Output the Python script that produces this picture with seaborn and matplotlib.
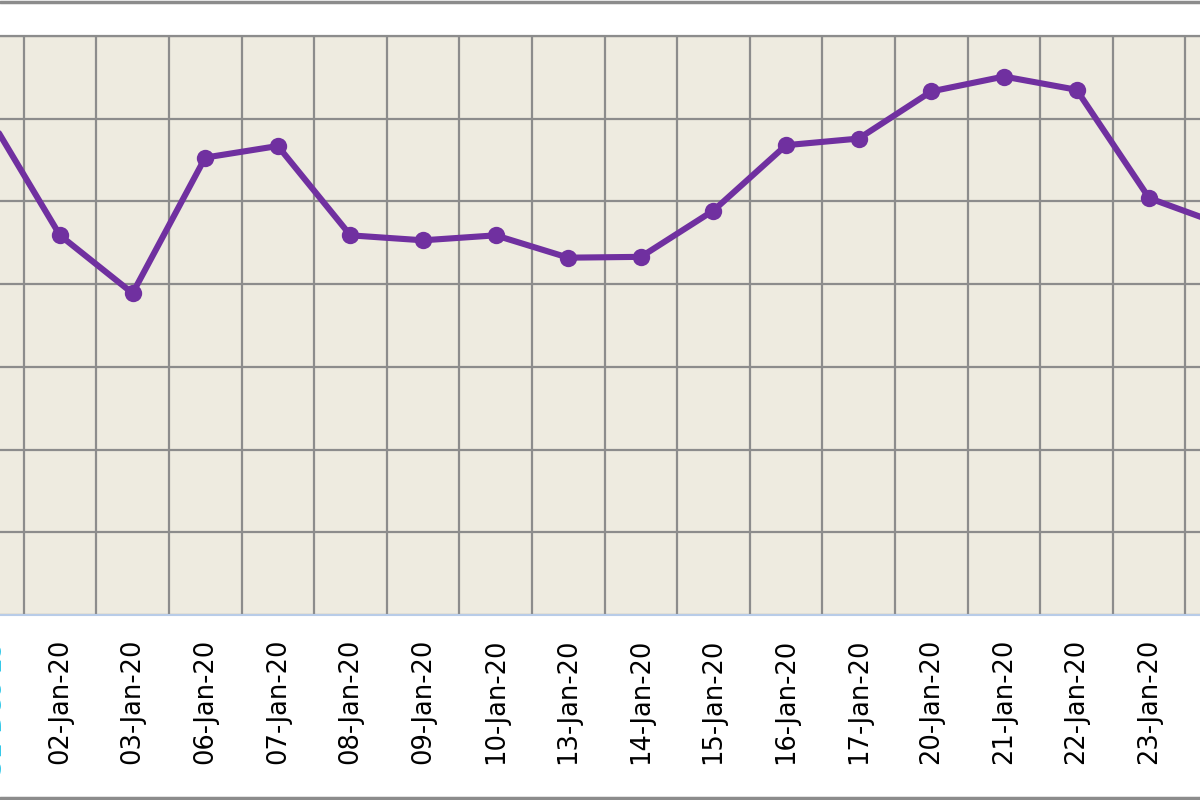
import numpy as np
import pandas as pd
import matplotlib
matplotlib.use("Agg")
import matplotlib.pyplot as plt
from matplotlib.lines import Line2D
import seaborn as sns

dates = ["31-Dec-19", "02-Jan-20", "03-Jan-20", "06-Jan-20", "07-Jan-20", "08-Jan-20",
         "09-Jan-20", "10-Jan-20", "13-Jan-20", "14-Jan-20", "15-Jan-20", "16-Jan-20",
         "17-Jan-20", "20-Jan-20", "21-Jan-20", "22-Jan-20", "23-Jan-20", "24-Jan-20"]
values = [6.06, 4.59, 3.89, 5.53, 5.67, 4.59, 4.53, 4.59, 4.32, 4.33,
          4.89, 5.68, 5.76, 6.33, 6.51, 6.35, 5.04, 4.72]

df = pd.DataFrame({"pos": np.arange(len(dates)), "date": dates, "value": values})

sns.set_style("white")
plt.rcParams['font.family'] = ['DejaVu Sans']

fig = plt.figure(figsize=(12, 8), dpi=100)
fig.patch.set_facecolor("white")
ax = fig.add_axes([0, 0.23125, 1, 0.72375])
ax.set_facecolor("#EEEBE0")

sns.lineplot(data=df, x="pos", y="value", ax=ax, color="#7030A0", linewidth=4.4,
             marker="o", markersize=12.5, markeredgewidth=0, zorder=3)

ax.set_xticks(df["pos"])
ax.set_xticklabels(df["date"], rotation=90, fontsize=18.5, color="black")
ax.set_xticks(df["pos"][:-1] + 0.5, minor=True)
ax.set_yticks(range(0, 8))
ax.set_yticklabels([])

# limits after the ticks, otherwise set_xticks widens them
ax.set_xlim(0.174, 16.70)
ax.set_ylim(0, 7)

ax.tick_params(axis="x", which="major", length=0, pad=17)
ax.tick_params(axis="x", which="minor", length=0)
ax.tick_params(axis="y", length=0)
ax.grid(False)
ax.grid(True, axis="x", which="minor", color="#8C8C8C", linewidth=1.6)
ax.grid(True, axis="y", which="major", color="#8C8C8C", linewidth=1.6)
ax.set_xlabel("")
ax.set_ylabel("")

# first date is out of view so its tick label is dropped; the selected
# (cyan) label still peeks in at the left edge
ax.annotate(dates[0], xy=(df["pos"][0], 0), xycoords=("data", "axes fraction"),
            xytext=(4.3, -17), textcoords="offset points", rotation=90,
            ha="center", va="top", fontsize=18.5, color="#33C8E8",
            annotation_clip=False)

for s in ["left", "right"]:
    ax.spines[s].set_visible(False)
ax.spines["top"].set_color("#8C8C8C")
ax.spines["top"].set_linewidth(1.6)
ax.spines["bottom"].set_color("#B8CCE8")
ax.spines["bottom"].set_linewidth(1.5)

fig.add_artist(Line2D([0, 1], [0.998, 0.998], transform=fig.transFigure, color="#8C8C8C", linewidth=2.5))
fig.add_artist(Line2D([0, 1], [0.002, 0.002], transform=fig.transFigure, color="#8C8C8C", linewidth=2.5))

fig.savefig("out.png", dpi=100)
